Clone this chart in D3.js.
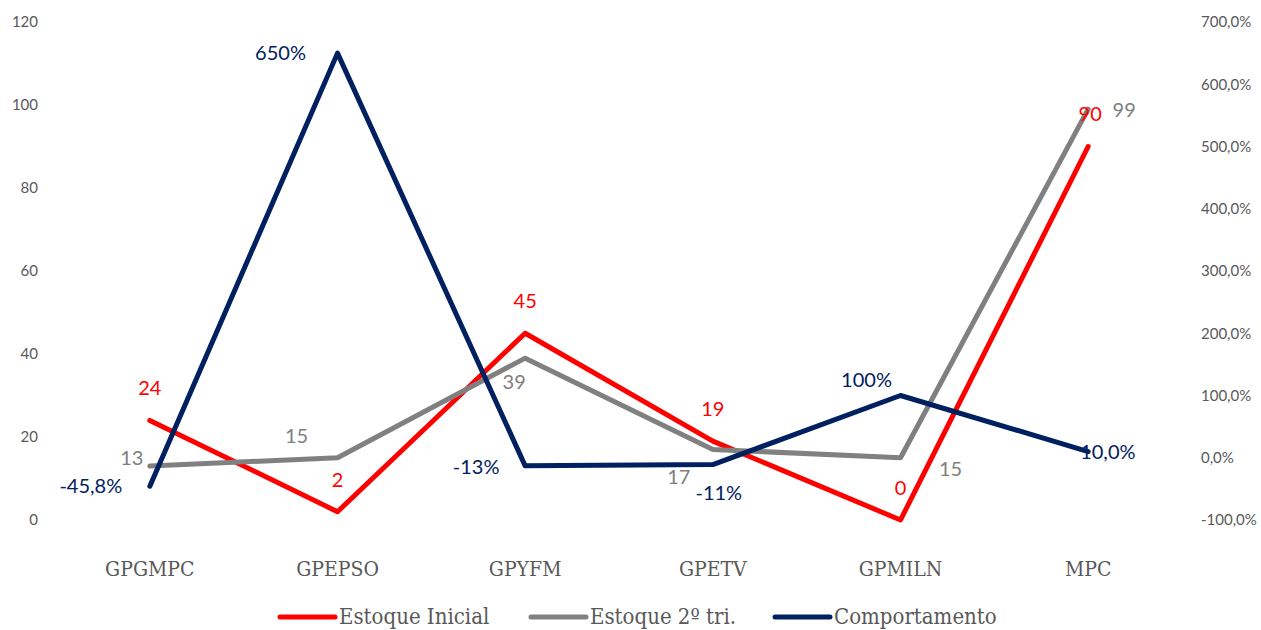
<!DOCTYPE html>
<html>
<head>
<meta charset="utf-8">
<script src="https://cdn.jsdelivr.net/npm/d3@7"></script>
<style>
  body { margin: 0; background: #fff; }
</style>
</head>
<body>
<div id="body"></div>
<script>
// chart values
var categories = ['GPGMPC', 'GPEPSO', 'GPYFM', 'GPETV', 'GPMILN', 'MPC'];
var estoqueInicial = [24, 2, 45, 19, 0, 90];
var estoque2tri = [13, 15, 39, 17, 15, 99];
var comportamento = [-45.8, 650, -13, -11, 100, 10];
var compLabels = ['-45,8%', '650%', '-13%', '-11%', '100%', '10,0%'];
var leftTicks = [0, 20, 40, 60, 80, 100, 120];
var rightTicks = [-100, 0, 100, 200, 300, 400, 500, 600, 700];

var width = 1261, height = 630;
var labelFont = 'Lato, "Open Sans", sans-serif';
var serifFont = '"DejaVu Serif", serif';

var svg = d3.select('#body')
  .append('svg')
  .attr('width', width)
  .attr('height', height)
  .style('background', '#fff');

var x = d3.scalePoint().domain(categories).range([56, 1182]).padding(0.5);
var yLeft = d3.scaleLinear().domain([0, 120]).range([520, 22]);
var yRight = d3.scaleLinear().domain([-100, 700]).range([520, 22]);

// left axis labels
var leftAxis = svg.append('g')
  .attr('transform', 'translate(40,0)')
  .call(d3.axisLeft(yLeft).tickValues(leftTicks).tickSize(0).tickPadding(2));
leftAxis.select('.domain').remove();
leftAxis.selectAll('text')
  .style('font-family', labelFont)
  .style('font-size', '15px')
  .attr('fill', '#595959');

// right axis labels
var rightAxis = svg.append('g')
  .attr('transform', 'translate(1199,0)')
  .call(d3.axisRight(yRight).tickValues(rightTicks).tickSize(0).tickPadding(2)
    .tickFormat(function(d) { return d3.format('.1f')(d).replace('.', ',').replace('\u2212', '-') + '%'; }));
rightAxis.select('.domain').remove();
rightAxis.selectAll('text')
  .style('font-family', labelFont)
  .style('font-size', '15px')
  .attr('fill', '#595959');

// category labels
svg.append('g').selectAll('text')
  .data(categories)
  .enter()
  .append('text')
  .attr('x', function(d) { return x(d); })
  .attr('y', 576)
  .attr('text-anchor', 'middle')
  .style('font-family', serifFont)
  .style('font-stretch', 'condensed')
  .style('font-size', '21px')
  .attr('fill', '#595959')
  .text(function(d) { return d; });

var series = [
  { name: 'Estoque Inicial', values: estoqueInicial, color: '#FF0000', y: yLeft },
  { name: 'Estoque 2º tri.', values: estoque2tri, color: '#808080', y: yLeft },
  { name: 'Comportamento', values: comportamento, color: '#002060', y: yRight }
];

// lines
series.forEach(function(s) {
  var line = d3.line()
    .x(function(d, i) { return x(categories[i]); })
    .y(function(d) { return s.y(d); });
  svg.append('path')
    .datum(s.values)
    .attr('d', line)
    .attr('fill', 'none')
    .attr('stroke', s.color)
    .attr('stroke-width', 5)
    .attr('stroke-linejoin', 'round')
    .attr('stroke-linecap', 'round');
});

// data labels, offsets
var redOff = [[0, -32], [0, -32], [0, -32], [0, -32], [0, -32], [2, -33]];
var grayOff = [[-18, -8], [-41, -22], [-11, 24], [-34, 28], [50, 11], [36, 1]];
var navyOff = [[-59, 0], [-57, 0], [-49, 1], [6, 28], [-34, -16], [-8, 0]];
var navyAnchor = ['middle', 'middle', 'middle', 'middle', 'middle', 'start'];

function addLabels(values, texts, scale, offs, color, anchors) {
  svg.append('g').selectAll('text')
    .data(values)
    .enter()
    .append('text')
    .attr('x', function(d, i) { return x(categories[i]) + offs[i][0]; })
    .attr('y', function(d, i) { return scale(d) + offs[i][1] + 7; })
    .attr('text-anchor', function(d, i) { return anchors ? anchors[i] : 'middle'; })
    .style('font-family', labelFont)
    .style('font-size', '20px')
    .attr('fill', color)
    .text(function(d, i) { return texts[i]; });
}

addLabels(estoque2tri, estoque2tri, yLeft, grayOff, '#808080');
addLabels(comportamento, compLabels, yRight, navyOff, '#002060', navyAnchor);
addLabels(estoqueInicial, estoqueInicial, yLeft, redOff, '#FF0000');

// legend
var legendX = [280, 531, 775];
var legend = svg.append('g').selectAll('g')
  .data(series)
  .enter()
  .append('g')
  .attr('transform', function(d, i) { return 'translate(' + legendX[i] + ',617)'; });
legend.append('line')
  .attr('x1', 0).attr('x2', 55)
  .attr('stroke', function(d) { return d.color; })
  .attr('stroke-width', 5)
  .attr('stroke-linecap', 'round');
legend.append('text')
  .attr('x', 59)
  .attr('y', 7)
  .style('font-family', serifFont)
  .style('font-stretch', 'condensed')
  .style('font-size', '22px')
  .attr('fill', '#595959')
  .text(function(d) { return d.name; });
</script>
</body>
</html>
